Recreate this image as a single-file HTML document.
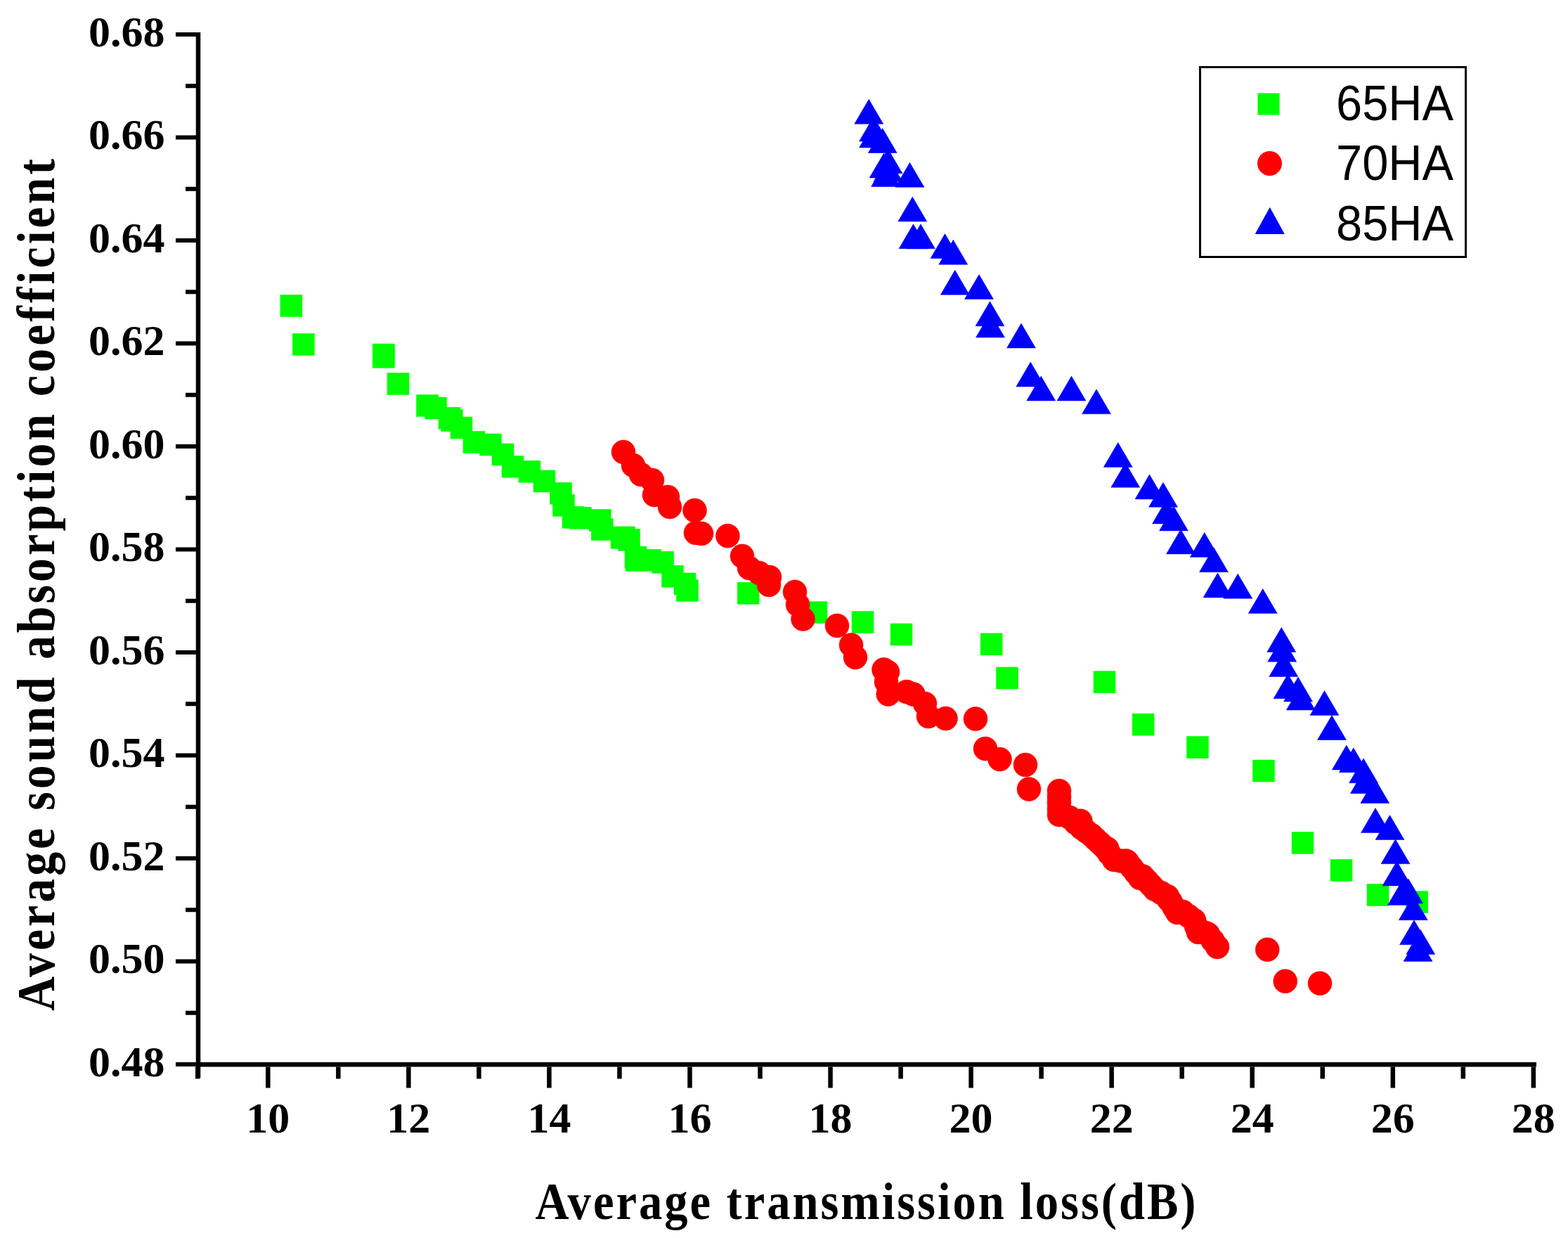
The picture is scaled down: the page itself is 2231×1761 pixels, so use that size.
<!DOCTYPE html>
<html><head><meta charset="utf-8"><title>Average sound absorption coefficient vs Average transmission loss</title>
<style>
html,body{margin:0;padding:0;background:#fff;}
body{width:2231px;height:1761px;overflow:hidden;}
svg{display:block;}
.tl{font-family:"Liberation Serif",serif;font-weight:bold;font-size:62px;fill:#000;}
.at{font-family:"Liberation Serif",serif;font-weight:bold;font-size:73px;fill:#000;}
.lg{font-family:"Liberation Sans",sans-serif;font-size:71px;fill:#000;}
</style></head>
<body>
<svg width="2231" height="1761" viewBox="0 0 2231 1761">
<rect width="2231" height="1761" fill="#fff"/>
<rect x="278.75" y="46" width="6.5" height="1487" fill="#000"/>
<rect x="279" y="1511" width="1907" height="6.5" fill="#000"/>
<rect x="278.02" y="1517.5" width="6.5" height="17" fill="#000"/>
<rect x="378.05" y="1517.5" width="6.5" height="30" fill="#000"/>
<rect x="478.08" y="1517.5" width="6.5" height="17" fill="#000"/>
<rect x="578.11" y="1517.5" width="6.5" height="30" fill="#000"/>
<rect x="678.14" y="1517.5" width="6.5" height="17" fill="#000"/>
<rect x="778.17" y="1517.5" width="6.5" height="30" fill="#000"/>
<rect x="878.2" y="1517.5" width="6.5" height="17" fill="#000"/>
<rect x="978.23" y="1517.5" width="6.5" height="30" fill="#000"/>
<rect x="1078.26" y="1517.5" width="6.5" height="17" fill="#000"/>
<rect x="1178.29" y="1517.5" width="6.5" height="30" fill="#000"/>
<rect x="1278.32" y="1517.5" width="6.5" height="17" fill="#000"/>
<rect x="1378.35" y="1517.5" width="6.5" height="30" fill="#000"/>
<rect x="1478.38" y="1517.5" width="6.5" height="17" fill="#000"/>
<rect x="1578.41" y="1517.5" width="6.5" height="30" fill="#000"/>
<rect x="1678.44" y="1517.5" width="6.5" height="17" fill="#000"/>
<rect x="1778.47" y="1517.5" width="6.5" height="30" fill="#000"/>
<rect x="1878.5" y="1517.5" width="6.5" height="17" fill="#000"/>
<rect x="1978.53" y="1517.5" width="6.5" height="30" fill="#000"/>
<rect x="2078.56" y="1517.5" width="6.5" height="17" fill="#000"/>
<rect x="2178.59" y="1517.5" width="6.5" height="30" fill="#000"/>
<rect x="250" y="1511" width="29" height="6" fill="#000"/>
<rect x="264" y="1437.75" width="15" height="6" fill="#000"/>
<rect x="250" y="1364.5" width="29" height="6" fill="#000"/>
<rect x="264" y="1291.25" width="15" height="6" fill="#000"/>
<rect x="250" y="1218" width="29" height="6" fill="#000"/>
<rect x="264" y="1144.75" width="15" height="6" fill="#000"/>
<rect x="250" y="1071.5" width="29" height="6" fill="#000"/>
<rect x="264" y="998.25" width="15" height="6" fill="#000"/>
<rect x="250" y="925" width="29" height="6" fill="#000"/>
<rect x="264" y="851.75" width="15" height="6" fill="#000"/>
<rect x="250" y="778.5" width="29" height="6" fill="#000"/>
<rect x="264" y="705.25" width="15" height="6" fill="#000"/>
<rect x="250" y="632" width="29" height="6" fill="#000"/>
<rect x="264" y="558.75" width="15" height="6" fill="#000"/>
<rect x="250" y="485.5" width="29" height="6" fill="#000"/>
<rect x="264" y="412.25" width="15" height="6" fill="#000"/>
<rect x="250" y="339" width="29" height="6" fill="#000"/>
<rect x="264" y="265.75" width="15" height="6" fill="#000"/>
<rect x="250" y="192.5" width="29" height="6" fill="#000"/>
<rect x="264" y="119.25" width="15" height="6" fill="#000"/>
<rect x="250" y="46" width="29" height="6" fill="#000"/>
<text x="381.3" y="1611" text-anchor="middle" class="tl">10</text>
<text x="581.36" y="1611" text-anchor="middle" class="tl">12</text>
<text x="781.42" y="1611" text-anchor="middle" class="tl">14</text>
<text x="981.48" y="1611" text-anchor="middle" class="tl">16</text>
<text x="1181.54" y="1611" text-anchor="middle" class="tl">18</text>
<text x="1381.6" y="1611" text-anchor="middle" class="tl">20</text>
<text x="1581.66" y="1611" text-anchor="middle" class="tl">22</text>
<text x="1781.72" y="1611" text-anchor="middle" class="tl">24</text>
<text x="1981.78" y="1611" text-anchor="middle" class="tl">26</text>
<text x="2181.84" y="1611" text-anchor="middle" class="tl">28</text>
<text x="234.5" y="1530.5" text-anchor="end" class="tl">0.48</text>
<text x="234.5" y="1384" text-anchor="end" class="tl">0.50</text>
<text x="234.5" y="1237.5" text-anchor="end" class="tl">0.52</text>
<text x="234.5" y="1091" text-anchor="end" class="tl">0.54</text>
<text x="234.5" y="944.5" text-anchor="end" class="tl">0.56</text>
<text x="234.5" y="798" text-anchor="end" class="tl">0.58</text>
<text x="234.5" y="651.5" text-anchor="end" class="tl">0.60</text>
<text x="234.5" y="505" text-anchor="end" class="tl">0.62</text>
<text x="234.5" y="358.5" text-anchor="end" class="tl">0.64</text>
<text x="234.5" y="212" text-anchor="end" class="tl">0.66</text>
<text x="234.5" y="65.5" text-anchor="end" class="tl">0.68</text>
<text transform="translate(1231.5,1734) scale(0.9,1)" x="0" y="0" text-anchor="middle" class="at" style="font-size:74px" textLength="1044.44" lengthAdjust="spacing">Average transmission loss(dB)</text>
<text transform="translate(77,832) rotate(-90) scale(0.88,1)" x="0" y="0" text-anchor="middle" class="at" style="font-size:77px" textLength="1377.27" lengthAdjust="spacing">Average sound absorption coefficient</text>
<g fill="#00ff00" stroke="#00ff00" stroke-width="0.5"><rect x="398.9" y="419.5" width="31" height="31"/><rect x="416.25" y="474.5" width="31" height="31"/><rect x="530.25" y="489" width="31" height="31"/><rect x="530.25" y="492.25" width="31" height="31"/><rect x="551" y="530.5" width="31" height="31"/><rect x="592.5" y="561.5" width="31" height="31"/><rect x="604.5" y="565" width="31" height="31"/><rect x="624" y="579.25" width="31" height="31"/><rect x="627.25" y="582.5" width="31" height="31"/><rect x="641" y="593" width="31" height="31"/><rect x="659" y="613.5" width="31" height="31"/><rect x="682.5" y="617" width="31" height="31"/><rect x="700" y="631" width="31" height="31"/><rect x="714" y="648.25" width="31" height="31"/><rect x="738" y="655.25" width="31" height="31"/><rect x="759" y="669" width="31" height="31"/><rect x="782.5" y="686.25" width="31" height="31"/><rect x="786.5" y="703.5" width="31" height="31"/><rect x="800" y="720.25" width="31" height="31"/><rect x="810.25" y="721.25" width="31" height="31"/><rect x="838.25" y="724.5" width="31" height="31"/><rect x="841.25" y="737.75" width="31" height="31"/><rect x="869" y="749.25" width="31" height="31"/><rect x="872.5" y="749" width="31" height="31"/><rect x="879.5" y="752.5" width="31" height="31"/><rect x="889" y="777.25" width="31" height="31"/><rect x="890" y="781.5" width="31" height="31"/><rect x="909.5" y="781.5" width="31" height="31"/><rect x="927.75" y="784.25" width="31" height="31"/><rect x="941.5" y="804.25" width="31" height="31"/><rect x="959" y="815" width="31" height="31"/><rect x="962.5" y="824.5" width="31" height="31"/><rect x="1049.1" y="828.25" width="31" height="31"/><rect x="1146" y="855.75" width="31" height="31"/><rect x="1212" y="869.5" width="31" height="31"/><rect x="1267" y="887" width="31" height="31"/><rect x="1395.1" y="900.9" width="31" height="31"/><rect x="1417.5" y="949" width="31" height="31"/><rect x="1556" y="954.75" width="31" height="31"/><rect x="1611.1" y="1015.1" width="31" height="31"/><rect x="1688.5" y="1047.5" width="31" height="31"/><rect x="1782.5" y="1081" width="31" height="31"/><rect x="1838" y="1183.5" width="31" height="31"/><rect x="1893" y="1222.5" width="31" height="31"/><rect x="1945" y="1257.5" width="31" height="31"/><rect x="2000.75" y="1267.75" width="31" height="31"/></g>
<g fill="#ff0000" stroke="#ff0000" stroke-width="0.5"><circle cx="887" cy="643" r="17"/><circle cx="901" cy="662" r="17"/><circle cx="912" cy="675" r="17"/><circle cx="928" cy="683" r="17"/><circle cx="931" cy="704" r="17"/><circle cx="950" cy="707" r="17"/><circle cx="953" cy="721" r="17"/><circle cx="988.5" cy="726" r="17"/><circle cx="990" cy="758" r="17"/><circle cx="998" cy="759" r="17"/><circle cx="1035.4" cy="762.25" r="17"/><circle cx="1056" cy="791" r="17"/><circle cx="1066" cy="808" r="17"/><circle cx="1080" cy="815" r="17"/><circle cx="1095" cy="821" r="17"/><circle cx="1094" cy="832" r="17"/><circle cx="1131" cy="842" r="17"/><circle cx="1135" cy="860" r="17"/><circle cx="1142.5" cy="880.5" r="17"/><circle cx="1191" cy="890" r="17"/><circle cx="1211" cy="917.5" r="17"/><circle cx="1217" cy="935" r="17"/><circle cx="1257.5" cy="952.5" r="17"/><circle cx="1263" cy="956" r="17"/><circle cx="1261" cy="970" r="17"/><circle cx="1263.75" cy="987.5" r="17"/><circle cx="1290" cy="984" r="17"/><circle cx="1299.5" cy="987.5" r="17"/><circle cx="1316" cy="1001" r="17"/><circle cx="1321" cy="1019" r="17"/><circle cx="1345.5" cy="1022" r="17"/><circle cx="1388" cy="1022.5" r="17"/><circle cx="1402" cy="1065" r="17"/><circle cx="1422.5" cy="1080" r="17"/><circle cx="1459" cy="1088" r="17"/><circle cx="1464" cy="1122.5" r="17"/><circle cx="1803.25" cy="1350.75" r="17"/><circle cx="1828.75" cy="1395.75" r="17"/><circle cx="1878" cy="1398.75" r="17"/><circle cx="1537.4" cy="1167.7" r="17"/><circle cx="1575.4" cy="1207.2" r="17"/><circle cx="1602.2" cy="1224.6" r="17"/><circle cx="1626" cy="1246.5" r="17"/><circle cx="1662.3" cy="1278.9" r="17"/><circle cx="1716" cy="1327.3" r="17"/><circle cx="1507" cy="1125" r="17"/><circle cx="1507" cy="1133.5" r="17"/><circle cx="1507" cy="1142" r="17"/><circle cx="1507" cy="1150.5" r="17"/><circle cx="1507" cy="1159" r="17"/><circle cx="1522" cy="1163" r="17"/><circle cx="1530.5" cy="1170.5" r="17"/><circle cx="1539" cy="1178" r="17"/><circle cx="1546" cy="1183" r="17"/><circle cx="1553" cy="1188" r="17"/><circle cx="1559" cy="1193.67" r="17"/><circle cx="1565" cy="1199.33" r="17"/><circle cx="1571" cy="1205" r="17"/><circle cx="1578" cy="1214" r="17"/><circle cx="1585" cy="1223" r="17"/><circle cx="1594.5" cy="1224.5" r="17"/><circle cx="1604" cy="1226" r="17"/><circle cx="1610" cy="1233.67" r="17"/><circle cx="1616" cy="1241.33" r="17"/><circle cx="1622" cy="1249" r="17"/><circle cx="1632" cy="1253" r="17"/><circle cx="1637.5" cy="1259" r="17"/><circle cx="1643" cy="1265" r="17"/><circle cx="1652" cy="1270" r="17"/><circle cx="1661" cy="1275" r="17"/><circle cx="1665.67" cy="1282.67" r="17"/><circle cx="1670.33" cy="1290.33" r="17"/><circle cx="1675" cy="1298" r="17"/><circle cx="1683" cy="1297" r="17"/><circle cx="1691" cy="1303" r="17"/><circle cx="1699" cy="1309" r="17"/><circle cx="1702" cy="1317.5" r="17"/><circle cx="1705" cy="1326" r="17"/><circle cx="1719" cy="1329" r="17"/><circle cx="1725.5" cy="1338" r="17"/><circle cx="1732" cy="1347" r="17"/></g>
<g fill="#0000ff" stroke="#0000ff" stroke-width="0.5"><path d="M1236.25 141.25L1256.75 176.25L1215.75 176.25Z"/><path d="M1243 166L1263.5 201L1222.5 201Z"/><path d="M1246.4 173.2L1266.9 208.2L1225.9 208.2Z"/><path d="M1243 175L1263.5 210L1222.5 210Z"/><path d="M1263.5 211.8L1284 246.8L1243 246.8Z"/><path d="M1263.5 223.3L1284 258.3L1243 258.3Z"/><path d="M1255.75 182.5L1276.25 217.5L1235.25 217.5Z"/><path d="M1257.5 218L1278 253L1237 253Z"/><path d="M1260 230.5L1280.5 265.5L1239.5 265.5Z"/><path d="M1294.5 231.25L1315 266.25L1274 266.25Z"/><path d="M1298.25 280L1318.75 315L1277.75 315Z"/><path d="M1299.5 318.75L1320 353.75L1279 353.75Z"/><path d="M1310 318.75L1330.5 353.75L1289.5 353.75Z"/><path d="M1344.5 332.5L1365 367.5L1324 367.5Z"/><path d="M1356.25 341.25L1376.75 376.25L1335.75 376.25Z"/><path d="M1358.75 384.25L1379.25 419.25L1338.25 419.25Z"/><path d="M1393 390.5L1413.5 425.5L1372.5 425.5Z"/><path d="M1408.5 428.75L1429 463.75L1388 463.75Z"/><path d="M1409 445L1429.5 480L1388.5 480Z"/><path d="M1453 460L1473.5 495L1432.5 495Z"/><path d="M1466.25 515L1486.75 550L1445.75 550Z"/><path d="M1481.25 535L1501.75 570L1460.75 570Z"/><path d="M1524.5 535L1545 570L1504 570Z"/><path d="M1560 553.75L1580.5 588.75L1539.5 588.75Z"/><path d="M1590.75 629.5L1611.25 664.5L1570.25 664.5Z"/><path d="M1601.25 658.25L1621.75 693.25L1580.75 693.25Z"/><path d="M1635.5 675L1656 710L1615 710Z"/><path d="M1655 686.25L1675.5 721.25L1634.5 721.25Z"/><path d="M1660 710L1680.5 745L1639.5 745Z"/><path d="M1670 720L1690.5 755L1649.5 755Z"/><path d="M1680 753L1700.5 788L1659.5 788Z"/><path d="M1713.75 757.5L1734.25 792.5L1693.25 792.5Z"/><path d="M1727 778.75L1747.5 813.75L1706.5 813.75Z"/><path d="M1732.5 815L1753 850L1712 850Z"/><path d="M1761.25 816.25L1781.75 851.25L1740.75 851.25Z"/><path d="M1796.75 837.5L1817.25 872.5L1776.25 872.5Z"/><path d="M1823.25 892.5L1843.75 927.5L1802.75 927.5Z"/><path d="M1824.25 906.25L1844.75 941.25L1803.75 941.25Z"/><path d="M1826.25 927.5L1846.75 962.5L1805.75 962.5Z"/><path d="M1832.5 958.75L1853 993.75L1812 993.75Z"/><path d="M1847 963L1867.5 998L1826.5 998Z"/><path d="M1850.75 975L1871.25 1010L1830.25 1010Z"/><path d="M1884.5 982.5L1905 1017.5L1864 1017.5Z"/><path d="M1895 1017.5L1915.5 1052.5L1874.5 1052.5Z"/><path d="M1915.75 1060L1936.25 1095L1895.25 1095Z"/><path d="M1925.75 1063.75L1946.25 1098.75L1905.25 1098.75Z"/><path d="M1940 1078.75L1960.5 1113.75L1919.5 1113.75Z"/><path d="M1941.75 1093.75L1962.25 1128.75L1921.25 1128.75Z"/><path d="M1956.25 1107.5L1976.75 1142.5L1935.75 1142.5Z"/><path d="M1957 1149.5L1977.5 1184.5L1936.5 1184.5Z"/><path d="M1977.5 1159.5L1998 1194.5L1957 1194.5Z"/><path d="M1985.5 1193.75L2006 1228.75L1965 1228.75Z"/><path d="M1987.5 1225L2008 1260L1967 1260Z"/><path d="M1995 1252.5L2015.5 1287.5L1974.5 1287.5Z"/><path d="M2004 1250L2024.5 1285L1983.5 1285Z"/><path d="M2010.75 1273.75L2031.25 1308.75L1990.25 1308.75Z"/><path d="M2012 1308.75L2032.5 1343.75L1991.5 1343.75Z"/><path d="M2021.25 1322.5L2041.75 1357.5L2000.75 1357.5Z"/><path d="M2017.5 1332.5L2038 1367.5L1997 1367.5Z"/></g>
<rect x="1707.5" y="95.5" width="378" height="270" fill="none" stroke="#000" stroke-width="3"/>
<rect x="1789.5" y="132.5" width="31" height="31" fill="#00ff00"/>
<circle cx="1806.5" cy="232.5" r="17.5" fill="#ff0000"/>
<path d="M1806.75 294.7L1827.8 333L1785.7 333Z" fill="#0000ff"/>
<text x="1901" y="170.5" class="lg" textLength="167" lengthAdjust="spacingAndGlyphs">65HA</text>
<text x="1901" y="256" class="lg" textLength="167" lengthAdjust="spacingAndGlyphs">70HA</text>
<text x="1901" y="341.5" class="lg" textLength="167" lengthAdjust="spacingAndGlyphs">85HA</text>
</svg>
</body></html>
